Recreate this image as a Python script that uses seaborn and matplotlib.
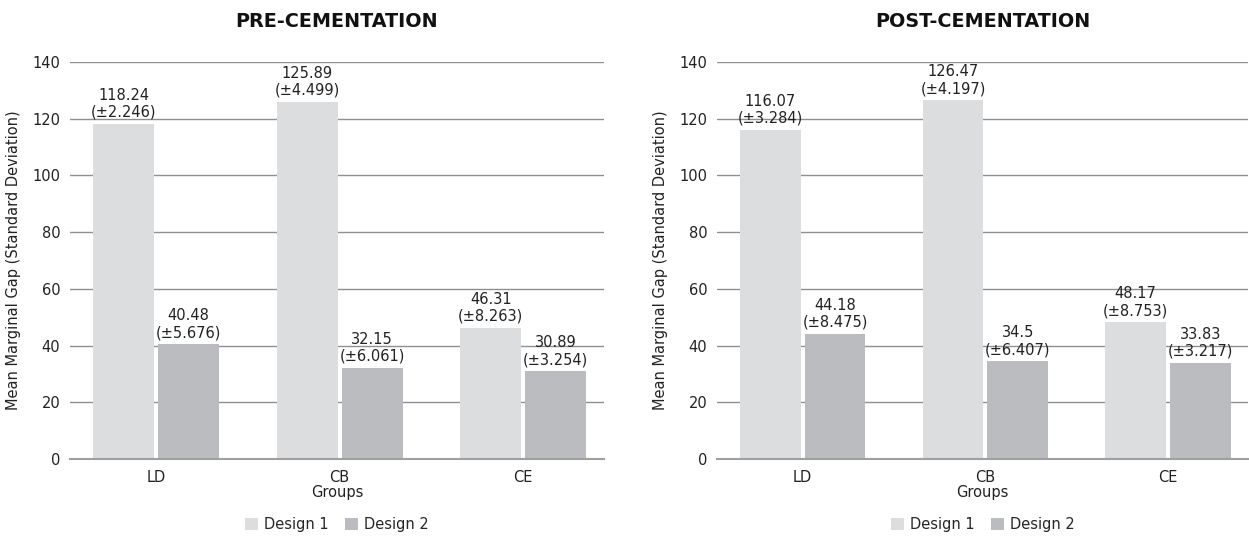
import matplotlib
matplotlib.use("Agg")
import matplotlib.pyplot as plt
import seaborn as sns
import pandas as pd

groups = ["LD", "CB", "CE"]
designs = ["Design 1", "Design 2"]

pre_d1 = [118.24, 125.89, 46.31]
pre_d1_sd = [2.246, 4.499, 8.263]
pre_d2 = [40.48, 32.15, 30.89]
pre_d2_sd = [5.676, 6.061, 3.254]

post_d1 = [116.07, 126.47, 48.17]
post_d1_sd = [3.284, 4.197, 8.753]
post_d2 = [44.18, 34.5, 33.83]
post_d2_sd = [8.475, 6.407, 3.217]

colors = ["#dcdddf", "#bbbcbf"]

sns.set_style("white")
plt.rcParams["font.family"] = ["DejaVu Sans"]
plt.rcParams["font.size"] = 10.5


def make_df(d1, d2):
    return pd.DataFrame({
        "Groups": groups * 2,
        "Design": [designs[0]] * 3 + [designs[1]] * 3,
        "Gap": list(d1) + list(d2),
    })


fig = plt.figure(figsize=(12.49, 5.38), dpi=100)
ax1 = fig.add_axes([0.0560, 0.1468, 0.4275, 0.7380])
ax2 = fig.add_axes([0.5740, 0.1468, 0.4255, 0.7380])

panels = [
    (ax1, "PRE-CEMENTATION", pre_d1, pre_d1_sd, pre_d2, pre_d2_sd),
    (ax2, "POST-CEMENTATION", post_d1, post_d1_sd, post_d2, post_d2_sd),
]

txt = "#222222"

for ax, title, d1, s1, d2, s2 in panels:
    df = make_df(d1, d2)
    sns.barplot(data=df, x="Groups", y="Gap", hue="Design", palette=colors,
                width=0.708, gap=0.062, ax=ax, saturation=1, linewidth=0)
    for cont, m, s in zip(ax.containers, [d1, d2], [s1, s2]):
        labels = [f"{v:g}\n(±{e:g})" for v, e in zip(m, s)]
        ax.bar_label(cont, labels=labels, padding=3, fontsize=10.5,
                     color=txt, linespacing=1.15)
    ax.set_ylim(0, 140)
    ax.set_xlim(-0.469, 2.44)
    ax.set_yticks(range(0, 141, 20))
    ax.yaxis.grid(True, color="#8f8f8f", linewidth=1)
    ax.set_axisbelow(True)
    for sp in ["top", "right", "left"]:
        ax.spines[sp].set_visible(False)
    ax.spines["bottom"].set_color("#a0a0a0")
    ax.spines["bottom"].set_linewidth(1.5)
    ax.tick_params(axis="y", length=0, labelsize=10.5, labelcolor=txt, pad=7)
    ax.tick_params(axis="x", length=0, labelsize=10.5, labelcolor=txt, pad=8)
    ax.set_xlabel("Groups", fontsize=10.5, color=txt, labelpad=0)
    ax.set_ylabel("Mean Marginal Gap (Standard Deviation)", fontsize=10.5,
                  color=txt, labelpad=8)
    ax.set_title(title, fontsize=13.8, fontweight="bold",
                 color="#111111", pad=25)
    ax.legend(loc="center", bbox_to_anchor=(0.5, -0.164), ncol=2,
              frameon=False, fontsize=10.5, handlelength=0.9, handleheight=0.9,
              handletextpad=0.4, columnspacing=1.1)

fig.savefig("out.png", dpi=100)
